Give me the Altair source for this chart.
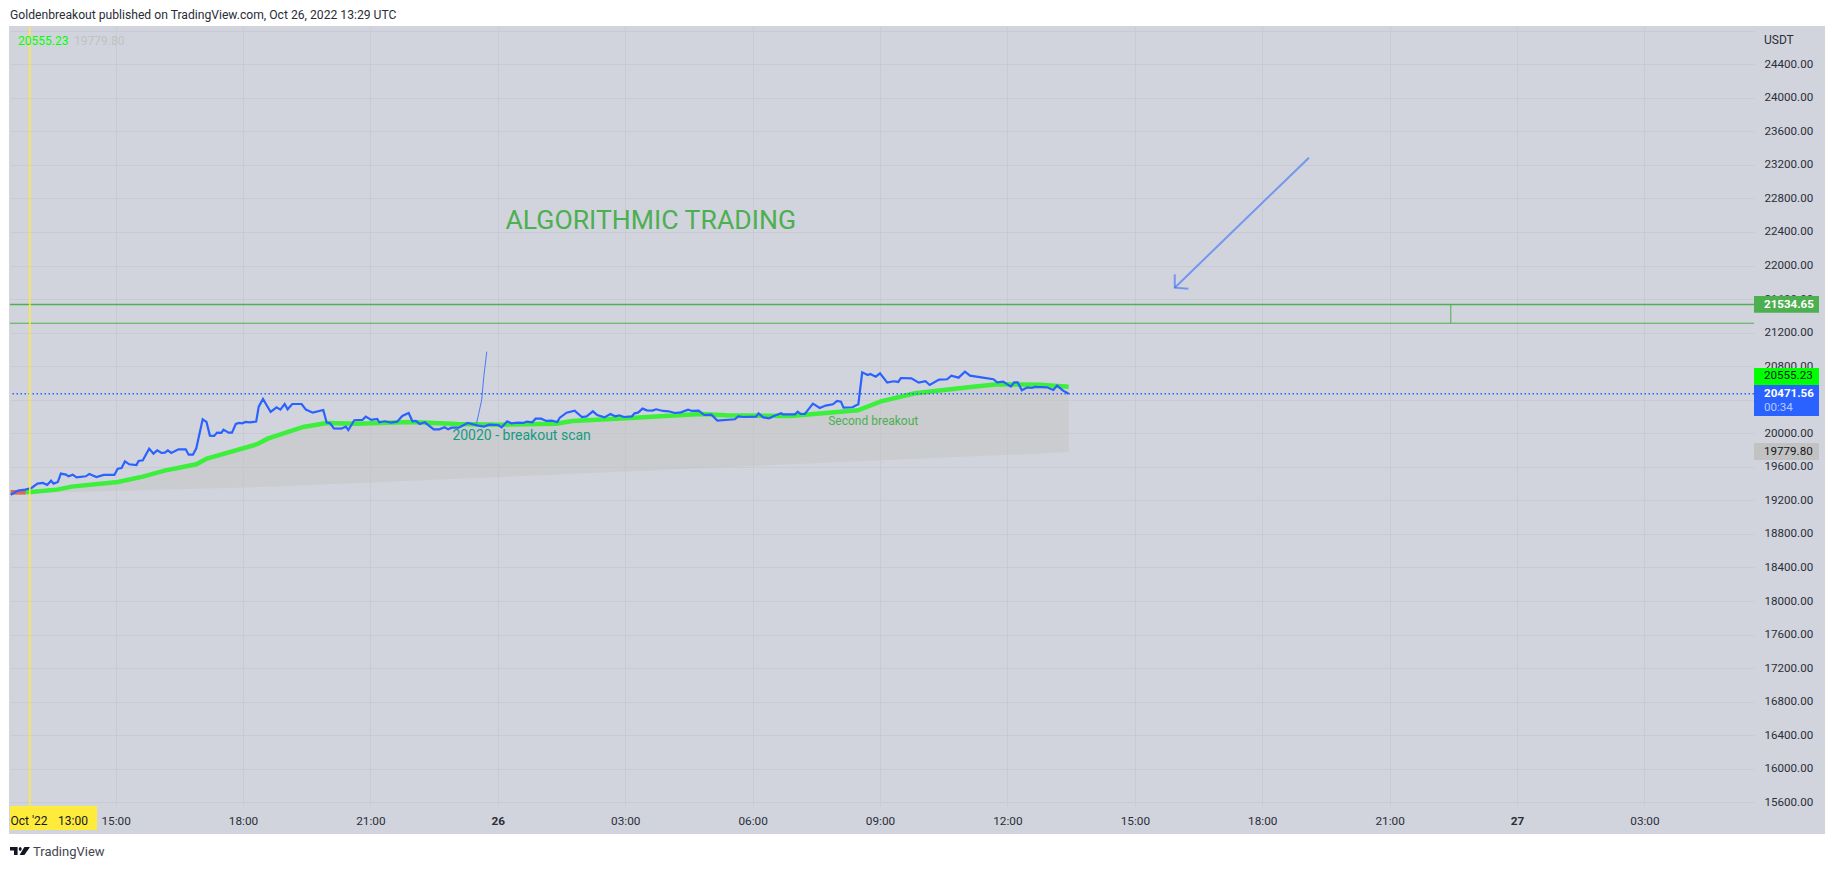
import altair as alt
import pandas as pd

# hours since Oct 25 2022 13:00 UTC
blue_t = [-0.47, -0.30, -0.13, 0.02, 0.16, 0.29, 0.39, 0.48, 0.54, 0.64, 0.71, 0.83, 0.89, 0.99, 1.08, 1.30, 1.38, 1.55, 1.72, 1.97,
          2.05, 2.14, 2.22, 2.32, 2.49, 2.54, 2.64, 2.79, 2.89, 2.98, 3.08, 3.16, 3.23, 3.31, 3.48, 3.65, 3.72, 3.82, 3.90, 4.05,
          4.14, 4.22, 4.32, 4.39, 4.49, 4.54, 4.66, 4.74, 4.83, 4.91, 4.98, 5.06, 5.16, 5.31, 5.37, 5.47, 5.65, 5.79, 5.88, 5.98,
          6.05, 6.16, 6.38, 6.48, 6.64, 6.89, 6.97, 7.05, 7.14, 7.31, 7.42, 7.48, 7.62, 7.81, 7.89, 8.02, 8.16, 8.21, 8.34, 8.48,
          8.63, 8.75, 8.90, 8.99, 9.07, 9.16, 9.28, 9.49, 9.62, 9.75, 9.83, 9.91, 10.08, 10.29, 10.54, 10.67, 10.80, 11.01, 11.09, 11.22,
          11.32, 11.47, 11.60, 11.68, 11.81, 11.89, 12.02, 12.14, 12.27, 12.40, 12.46, 12.62, 12.81, 12.98, 13.09, 13.24, 13.34, 13.51, 13.65, 13.76,
          13.86, 13.97, 14.16, 14.22, 14.30, 14.41, 14.51, 14.64, 14.73, 14.89, 15.02, 15.17, 15.31, 15.48, 15.57, 15.73, 15.86, 16.03, 16.17, 16.58,
          16.66, 16.79, 17.08, 17.14, 17.25, 17.39, 17.50, 17.67, 17.71, 18.00, 18.06, 18.13, 18.23, 18.42, 18.58, 18.72, 18.89, 18.99, 19.08, 19.14,
          19.35, 19.49, 19.58, 19.71, 19.77, 19.90, 20.00, 20.17, 20.32, 20.43, 20.49, 20.74, 20.91, 21.07, 21.17, 21.39, 21.58, 21.68, 21.85, 22.00,
          22.12, 22.42, 22.67, 22.76, 22.90, 23.08, 23.16, 23.24, 23.34, 23.47, 23.58, 23.64, 23.93, 24.08, 24.17, 24.31, 24.44]
blue_p = [19268, 19316, 19328, 19348, 19400, 19408, 19384, 19435, 19400, 19419, 19519, 19507, 19487, 19507, 19475, 19487, 19515, 19479, 19503, 19503,
          19578, 19586, 19666, 19630, 19622, 19670, 19678, 19817, 19757, 19797, 19765, 19769, 19797, 19765, 19809, 19809, 19745, 19745, 19821, 20167,
          20135, 19972, 19968, 20008, 20004, 20043, 20008, 20008, 20111, 20123, 20119, 20135, 20131, 20139, 20318, 20409, 20254, 20310, 20282, 20349,
          20286, 20349, 20349, 20282, 20246, 20278, 20127, 20119, 20059, 20055, 20079, 20039, 20155, 20159, 20198, 20159, 20171, 20131, 20143, 20127,
          20139, 20206, 20242, 20143, 20147, 20111, 20131, 20047, 20047, 20071, 20047, 20067, 20067, 20123, 20091, 20079, 20103, 20099, 20071, 20143,
          20119, 20127, 20123, 20139, 20131, 20174, 20174, 20147, 20151, 20135, 20186, 20246, 20270, 20194, 20202, 20262, 20218, 20190, 20230, 20202,
          20214, 20194, 20202, 20238, 20246, 20294, 20274, 20270, 20286, 20266, 20262, 20242, 20250, 20282, 20266, 20270, 20218, 20222, 20151, 20167,
          20202, 20194, 20198, 20238, 20190, 20179, 20206, 20238, 20226, 20226, 20258, 20230, 20230, 20353, 20302, 20330, 20346, 20385, 20377, 20306,
          20310, 20346, 20727, 20695, 20707, 20675, 20715, 20604, 20620, 20612, 20659, 20655, 20604, 20620, 20576, 20640, 20644, 20687, 20663, 20735,
          20687, 20663, 20644, 20608, 20616, 20556, 20608, 20608, 20512, 20548, 20540, 20552, 20548, 20516, 20568, 20508, 20471.56]

green_t = [-0.47, 0.0, 0.62, 0.96, 2.05, 2.64, 3.15, 3.90, 4.15, 5.33, 5.58, 6.42, 6.97, 7.69, 8.95, 10.04, 11.05, 11.99, 12.37, 12.75,
           14.01, 14.93, 15.78, 16.37, 17.88, 18.72, 19.48, 20.02, 20.82, 22.08, 22.76, 23.76, 24.44]
green_p = [19296, 19300, 19328, 19364, 19419, 19483, 19555, 19630, 19698, 19869, 19936, 20075, 20123, 20115, 20135, 20111, 20103, 20111, 20115, 20147,
           20179, 20206, 20230, 20214, 20206, 20242, 20274, 20381, 20477, 20548, 20584, 20580, 20555.23]
lower_p = [19284, 19290, 19297, 19301, 19315, 19322, 19329, 19339, 19342, 19358, 19363, 19381, 19393, 19408, 19435, 19458, 19480, 19500, 19509, 19518,
           19545, 19565, 19584, 19597, 19630, 19649, 19666, 19678, 19695, 19722, 19737, 19760, 19779.80]
red_t = [-0.47, -0.12]
red_p = [19296, 19298]

curve_t = [10.50, 10.62, 10.67, 10.74]
curve_p = [20119, 20397, 20675, 20973]

arrow_t = [30.10, 26.94, 26.94, 26.94, 27.26]
arrow_p = [23286, 21736, 21896, 21736, 21724]
arrow_part = ["shaft", "shaft", "head", "head", "head"]
arrow_seq = [0, 1, 0, 1, 2]

level_top = 21534.65
level_low = 21312
level_tick_t = 33.44
last_price = 20471.56
cursor_t = -0.02

x_ticks = [2, 5, 8, 11, 14, 17, 20, 23, 26, 29, 32, 35, 38]
x_labels = ["15:00", "18:00", "21:00", "26", "03:00", "06:00", "09:00", "12:00", "15:00", "18:00", "21:00", "27", "03:00"]
y_ticks = list(range(15600, 24801, 400))

tag_price = [21534.65, 20677, 20471.56, 19779.80]
tag_text = ["21534.65", "20555.23", "20471.56", "19779.80"]
tag_top = [21637, 20779, 20576, 19885]
tag_bottom = [21438, 20576, 20206, 19682]
tag_fill = ["#4caf50", "#00ff00", "#2962ff", "#c2c2c2"]
tag_color = ["#ffffff", "#131722", "#ffffff", "#131722"]
tag_weight = ["bold", "normal", "bold", "normal"]

FONT = "Roboto"
PANE = "#d1d4dc"
GRID = "#c8cbd4"

label_map = "{" + ",".join(f'"{t}":"{l}"' for t, l in zip(x_ticks, x_labels)) + "}"
x_scale = alt.Scale(domain=[-0.487, 40.58], nice=False, zero=False)
y_scale = alt.Scale(domain=[15556, 24844], nice=False, zero=False)
x_axis = alt.Axis(
    values=x_ticks, title=None, orient="bottom", domain=False, ticks=False, grid=True, gridColor=GRID,
    labelExpr=f"{label_map}[datum.value]", labelFont=FONT, labelFontSize=11.8, labelColor="#2a2e39",
    labelBaseline="middle", labelPadding=14, labelFlush=False,
    labelFontWeight={"condition": {"test": "datum.value == 11 || datum.value == 35", "value": "bold"}, "value": "normal"},
)
y_axis = alt.Axis(
    values=y_ticks, title=None, orient="right", domain=False, ticks=False, grid=True, gridColor=GRID,
    labelExpr="datum.value > 24600 ? '' : format(datum.value, '.2f')", labelFont=FONT, labelFontSize=11.6,
    labelColor="#2a2e39", labelAlign="left", labelPadding=10,
)
x_plain = alt.X("t:Q", scale=x_scale, axis=x_axis)
y_plain = alt.Y("p:Q", scale=y_scale, axis=y_axis)


def strip(x, x2, y, y2, fill):
    # page chrome in pixels, relative to the plot's corner
    return alt.Chart(pd.DataFrame({"a": [0]})).mark_rect(fill=fill).encode(
        x=alt.value(x), x2=alt.value(x2), y=alt.value(y), y2=alt.value(y2))


def pixel_text(text, x, y, size=12, color="#131722", weight="normal", align="left", font=FONT):
    return alt.Chart(pd.DataFrame({"label": [text]})).mark_text(
        align=align, baseline="middle", fontSize=size, fontWeight=weight, color=color, font=font
    ).encode(x=alt.value(x), y=alt.value(y), text="label:N")


def data_text(text, t, p, size, color):
    return alt.Chart(pd.DataFrame({"label": [text], "t": [t], "p": [p]})).mark_text(
        align="left", baseline="middle", fontSize=size, color=color, font=FONT
    ).encode(x=x_plain, y=y_plain, text="label:N")


def series(ts, ps):
    return pd.DataFrame({"t": ts, "p": ps})


band = alt.Chart(pd.DataFrame({"t": green_t, "p": green_p, "low": lower_p})).mark_area(color="#c4c4c4", opacity=0.55).encode(
    x=x_plain, y=y_plain, y2="low:Q")
green = alt.Chart(series(green_t, green_p)).mark_line(color="#3bef3b", strokeWidth=4.5).encode(x=x_plain, y=y_plain)
red = alt.Chart(series(red_t, red_p)).mark_line(color="#e8625c", strokeWidth=4.5).encode(x=x_plain, y=y_plain)
blue = alt.Chart(series(blue_t, blue_p)).mark_line(color="#2962ff", strokeWidth=2.2).encode(x=x_plain, y=y_plain)
curve = alt.Chart(series(curve_t, curve_p)).mark_line(color="#2962ff", strokeWidth=1, opacity=0.8).encode(x=x_plain, y=y_plain)
arrow = alt.Chart(pd.DataFrame({"t": arrow_t, "p": arrow_p, "part": arrow_part, "seq": arrow_seq})).mark_line(
    color="#2962ff", strokeWidth=2, opacity=0.55).encode(x=x_plain, y=y_plain, detail="part:N", order="seq:Q")

last_line = alt.Chart(series([0], [last_price])).mark_rule(color="#2962ff", strokeDash=[1.5, 2.5], strokeWidth=1.4).encode(y=y_plain)
level_a = alt.Chart(series([0], [level_top])).mark_rule(color="#4caf50", strokeWidth=1.5).encode(y=y_plain)
level_b = alt.Chart(series([0], [level_low])).mark_rule(color="#4caf50", strokeWidth=1).encode(y=y_plain)
level_tick = alt.Chart(pd.DataFrame({"t": [level_tick_t], "p": [level_top], "p2": [level_low]})).mark_rule(
    color="#4caf50", strokeWidth=1).encode(x=x_plain, y=y_plain, y2="p2:Q")
cursor = alt.Chart(series([cursor_t], [20000])).mark_rule(color="#ffeb3b", strokeWidth=1.5).encode(x=x_plain)

tags = pd.DataFrame({"p": tag_price, "label": tag_text, "top": tag_top, "bottom": tag_bottom,
                     "fill": tag_fill, "ink": tag_color, "weight": tag_weight})
tag_boxes = alt.Chart(tags).mark_rect().encode(
    x=alt.value(1744), x2=alt.value(1809),
    y=alt.Y("top:Q", scale=y_scale, axis=y_axis), y2="bottom:Q",
    fill=alt.Fill("fill:N", scale=None))
tag_text_normal = alt.Chart(tags[tags.weight == "normal"]).mark_text(
    align="left", baseline="middle", fontSize=11.6, font=FONT).encode(
    x=alt.value(1754), y=y_plain, text="label:N", color=alt.Color("ink:N", scale=None))
tag_text_bold = alt.Chart(tags[tags.weight == "bold"]).mark_text(
    align="left", baseline="middle", fontSize=11.6, font=FONT, fontWeight="bold").encode(
    x=alt.value(1754), y=y_plain, text="label:N", color=alt.Color("ink:N", scale=None))

logo = alt.Chart(pd.DataFrame({"a": [0]})).mark_point(
    filled=True, opacity=1, color="#131722", size=1600, strokeWidth=0,
    shape="M-.5 -.2H-.12V.2H-.3V-.02H-.5ZM-.07 -.1L-.03 -.19H.05L.09 -.1L.05 -.01H-.03ZM.22 -.2H.5L.22 .2H-.02Z",
).encode(x=alt.value(10), y=alt.value(824))

chart = alt.layer(
    band, green, red, curve, blue, arrow,
    last_line, level_a, level_b, level_tick, cursor,
    data_text("ALGORITHMIC TRADING", 11.18, 22525, 26.6, "#4caf50"),
    data_text("20020 - breakout scan", 9.93, 19970, 14, "#179a82"),
    data_text("Second breakout", 18.78, 20150, 12, "#4caf50"),
    pixel_text("20555.23", 8, 14, color="#00ff00"),
    pixel_text("19779.80", 64, 14, color="#c2c2c2"),
    pixel_text("USDT", 1754, 13, color="#2a2e39"),
    tag_boxes, tag_text_normal, tag_text_bold,
    pixel_text("00:34", 1754, 381, size=11.6, color="#b9c8ff"),
    strip(0, 87, 779, 803, "#ffeb3b"),
    pixel_text("Oct '22", 0.5, 794),
    pixel_text("13:00", 48, 794),
    strip(-2, 1816, -19, -1, "#ffffff"),
    strip(-2, 1816, 807, 834, "#ffffff"),
    strip(1815, 1816, -1, 807, "#ffffff"),
    strip(-2, -1, -1, 807, "#ffffff"),
    pixel_text("Goldenbreakout published on TradingView.com, Oct 26, 2022 13:29 UTC", 0, -12, size=12.15, color="#2a2e39"),
    logo,
    pixel_text("TradingView", 23, 825, size=13, color="#434651"),
).properties(
    width=1744, height=779,
    padding={"left": 2, "top": 19, "right": 72, "bottom": 55},
    autosize=alt.AutoSizeParams(type="none"),
    background=PANE,
).configure_view(fill=PANE, strokeWidth=0)

chart.save("out.html", embed_options={"renderer": "svg", "actions": False})
